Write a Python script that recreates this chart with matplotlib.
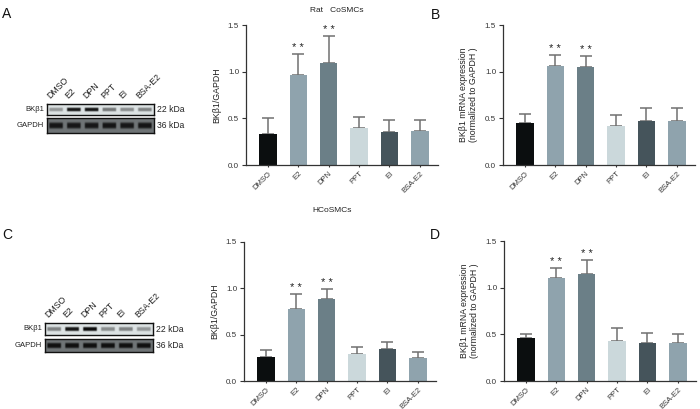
import numpy as np
import matplotlib
matplotlib.use("Agg")
import matplotlib.pyplot as plt

plt.rcParams['font.family'] = ['Liberation Sans', 'DejaVu Sans']

groups = ["DMSO", "E2", "DPN", "PPT", "EI", "BSA-E2"]
colors = ["#0b0e0f", "#8fa3ad", "#6b7f87", "#cbd8db", "#45545b", "#8fa3ad"]

# panel A: western blot quantification, rat
a_mean = [0.33, 0.96, 1.09, 0.40, 0.35, 0.36]
a_top = [0.50, 1.19, 1.38, 0.51, 0.48, 0.48]
# panel B: mRNA, rat
b_mean = [0.45, 1.06, 1.05, 0.42, 0.47, 0.47]
b_top = [0.55, 1.18, 1.17, 0.54, 0.61, 0.61]
# panel C: western blot quantification, human
c_mean = [0.26, 0.78, 0.89, 0.29, 0.34, 0.25]
c_top = [0.33, 0.94, 0.99, 0.37, 0.42, 0.31]
# panel D: mRNA, human
d_mean = [0.46, 1.10, 1.15, 0.43, 0.41, 0.41]
d_top = [0.50, 1.21, 1.30, 0.57, 0.51, 0.50]
stars = ["", "* *", "* *", "", "", ""]

# blot band strengths (0..1), per lane
blot_a_bk = [0.35, 0.95, 0.95, 0.5, 0.4, 0.45]
blot_a_gapdh = [0.9, 0.88, 0.88, 0.9, 0.88, 0.9]
blot_c_bk = [0.45, 0.95, 1.0, 0.4, 0.45, 0.35]
blot_c_gapdh = [0.95, 0.95, 0.95, 0.95, 0.95, 0.95]

W, H = 700, 409
fig = plt.figure(figsize=(7, 4.09), dpi=100)


def fx(px):
    return px / W


def fy(py):
    return 1 - py / H


def bar_panel(left, top, bottom, mean, upper, ylabel):
    xl = (-0.72, 5.6)
    width = (xl[1] - xl[0]) * 30.4
    ax = fig.add_axes([fx(left), fy(bottom), width / W, (bottom - top) / H])
    x = np.arange(len(groups))
    err = np.array(upper) - np.array(mean)
    ax.errorbar(x, mean, yerr=[np.zeros(len(x)), err], fmt='none',
                ecolor="#707070", elinewidth=1.1, capsize=4.5, capthick=1.1, zorder=1)
    ax.bar(x, mean, width=0.57, color=colors, zorder=2)
    for xi, u, s in zip(x, upper, stars):
        if s:
            ax.text(xi, u + 0.01, s, ha='center', va='bottom', fontsize=8, color="#222222")
    ax.set_xlim(*xl)
    ax.set_ylim(0, 1.5)
    ax.set_yticks([0, 0.5, 1.0, 1.5])
    ax.set_yticklabels(["0.0", "0.5", "1.0", "1.5"])
    ax.set_xticks(x)
    ax.set_xticklabels(groups, rotation=45, ha='right', rotation_mode='anchor')
    ax.tick_params(axis='both', labelsize=5.8, colors="#333333", width=0.8, length=3, pad=2)
    ax.tick_params(axis='x', length=1.5, labelsize=5.5)
    for s in ["top", "right"]:
        ax.spines[s].set_visible(False)
    for s in ["left", "bottom"]:
        ax.spines[s].set_color("#333333")
        ax.spines[s].set_linewidth(0.9)
    ax.set_ylabel(ylabel, fontsize=6.3, color="#222222", labelpad=5,
                  linespacing=1.1)
    return ax


bar_panel(246, 25, 165, a_mean, a_top, "BKβ1/GAPDH")
bar_panel(503, 25, 165, b_mean, b_top,
          "BKβ1 mRNA expression\n(normalized to GAPDH )")
bar_panel(244, 242, 381, c_mean, c_top, "BKβ1/GAPDH")
bar_panel(504, 241, 381, d_mean, d_top,
          "BKβ1 mRNA expression\n(normalized to GAPDH )")


def blot_row(left, right, top, bottom, strengths, bg, band_h):
    ax = fig.add_axes([fx(left), fy(bottom), (right - left) / W, (bottom - top) / H])
    nx, ny = 240, 40
    xs = np.linspace(0, len(strengths), nx)
    ys = np.linspace(-1, 1, ny)
    img = np.zeros((ny, nx))
    for i, s in enumerate(strengths):
        dx = np.abs(xs - (i + 0.5))
        prof_x = np.clip((0.42 - dx) / 0.08, 0, 1)
        prof_y = np.exp(-(ys / band_h) ** 4)
        img += s * np.outer(prof_y, prof_x)
    img = np.clip(img, 0, 1)
    bgc = np.array(matplotlib.colors.to_rgb(bg))
    rgb = bgc[None, None, :] * (1 - img[..., None]) + 0.04 * img[..., None]
    ax.imshow(rgb, aspect='auto', extent=(0, len(strengths), -1, 1), interpolation='bilinear')
    ax.set_xticks([])
    ax.set_yticks([])
    for s in ax.spines.values():
        s.set_linewidth(1.0)
        s.set_color("#111111")
    return ax


def blot_panel(left, right, bk_top, bk_bot, g_top, g_bot, bk, gapdh):
    blot_row(left, right, bk_top, bk_bot, bk, "#dde3e4", 0.35)
    blot_row(left, right, g_top, g_bot, gapdh, "#6f7476", 0.42)
    lane_w = (right - left) / len(groups)
    for i, g in enumerate(groups):
        cx = left + lane_w * (i + 0.5)
        fig.text(fx(cx - 4), fy(bk_top - 4), g, rotation=45, ha='left', va='bottom',
                 rotation_mode='anchor', fontsize=6.3, color="#222222")
    fig.text(fx(left - 3), fy((bk_top + bk_bot) / 2), "BKβ1", ha='right', va='center',
             fontsize=5.5, color="#222222")
    fig.text(fx(left - 3), fy((g_top + g_bot) / 2), "GAPDH", ha='right', va='center',
             fontsize=5.5, color="#222222")
    fig.text(fx(right + 3), fy((bk_top + bk_bot) / 2), "22 kDa", ha='left', va='center',
             fontsize=6.2, color="#222222")
    fig.text(fx(right + 3), fy((g_top + g_bot) / 2), "36 kDa", ha='left', va='center',
             fontsize=6.2, color="#222222")


blot_panel(47, 154, 104, 115, 118, 133, blot_a_bk, blot_a_gapdh)
blot_panel(45, 153, 323, 335, 339, 352, blot_c_bk, blot_c_gapdh)

fig.text(fx(337), fy(10), "Rat   CoSMCs", ha='center', va='center', fontsize=6, color="#222222")
fig.text(fx(332), fy(210), "HCoSMCs", ha='center', va='center', fontsize=6, color="#222222")
for lab, px, py in [("A", 7, 14), ("B", 435, 15), ("C", 7, 235), ("D", 435, 235)]:
    fig.text(fx(px), fy(py), lab, ha='center', va='center', fontsize=10, color="#111111")

fig.savefig("out.png", dpi=100)
